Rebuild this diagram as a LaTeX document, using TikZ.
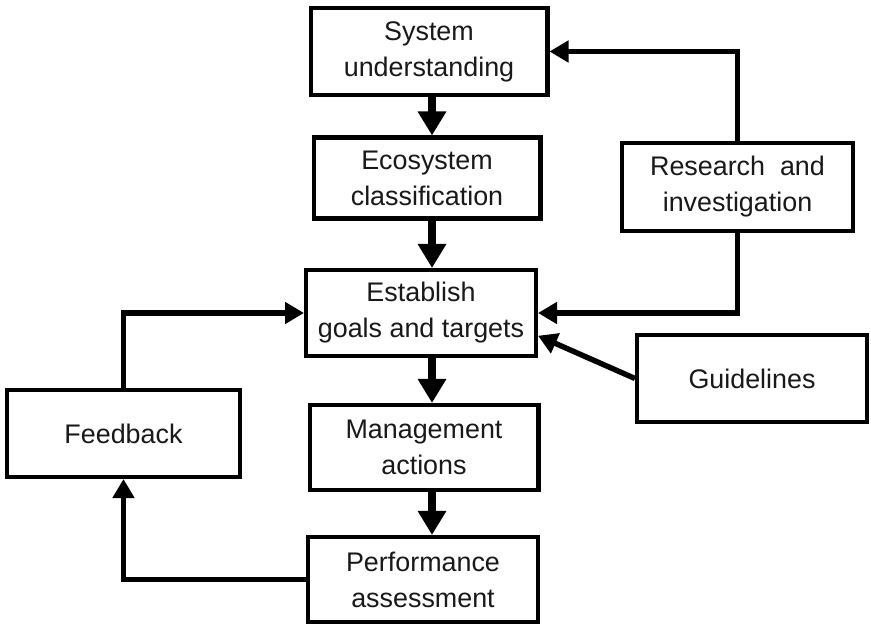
\documentclass[tikz,border=0pt]{standalone}
\usepackage{fontspec}
\setmainfont{Liberation Sans}
\usetikzlibrary{arrows.meta,positioning}
\tikzset{
      stagebox/.style={
        draw=black,
        line width=2.3pt,
        fill=white,
        text=black!90,
        align=center,
        inner sep=4pt,
        font=\fontsize{15.3}{20.5}\selectfont
      },
      flowarrow/.style={
        line width=3.1pt,
        draw=black,
        -{Triangle[length=0.38cm,width=0.42cm]}
      },
      mainarrow/.style={
        line width=4.2pt,
        draw=black,
        -{Triangle[length=0.48cm,width=0.54cm]}
      }
    }
\begin{document}
\begin{tikzpicture}[x=0.02cm,y=-0.02cm]
    \useasboundingbox (0,0) rectangle (871,624);
    \node[stagebox, minimum width=4.74cm, minimum height=1.74cm] (sys) at (429,51.5) {System\\understanding};
    \node[stagebox, minimum width=4.54cm, minimum height=1.62cm] (eco) at (427,178) {Ecosystem\\classification};
    \node[stagebox, minimum width=4.60cm, minimum height=1.72cm] (est) at (421,313) {Establish\\goals and targets};
    \node[stagebox, minimum width=4.58cm, minimum height=1.70cm] (man) at (424,447.5) {Management\\actions};
    \node[stagebox, minimum width=4.60cm, minimum height=1.70cm] (per) at (423,579.5) {Performance\\assessment};
    \node[stagebox, minimum width=4.62cm, minimum height=1.76cm] (res) at (737.5,187) {Research \ and\\investigation};
    \node[stagebox, minimum width=4.60cm, minimum height=1.74cm] (gui) at (752,378.5) {Guidelines};
    \node[stagebox, minimum width=4.66cm, minimum height=1.74cm] (fee) at (123.5,433.5) {Feedback};
    \coordinate (axis) at (432,0);
    \draw[mainarrow] (sys.south -| axis) -- (eco.north -| axis);
    \draw[mainarrow] (eco.south -| axis) -- (est.north -| axis);
    \draw[mainarrow] (est.south -| axis) -- (man.north -| axis);
    \draw[mainarrow] (man.south -| axis) -- (per.north -| axis);
    \draw[flowarrow] (res.north) |- (sys.east);
    \draw[flowarrow] (res.south) |- (est.east);
    \draw[flowarrow] (gui.west) -- (est.-11);
    \draw[flowarrow] (per.west) -| (fee.south);
    \draw[flowarrow] (fee.north) |- (est.west);
    \end{tikzpicture}
\end{document}
